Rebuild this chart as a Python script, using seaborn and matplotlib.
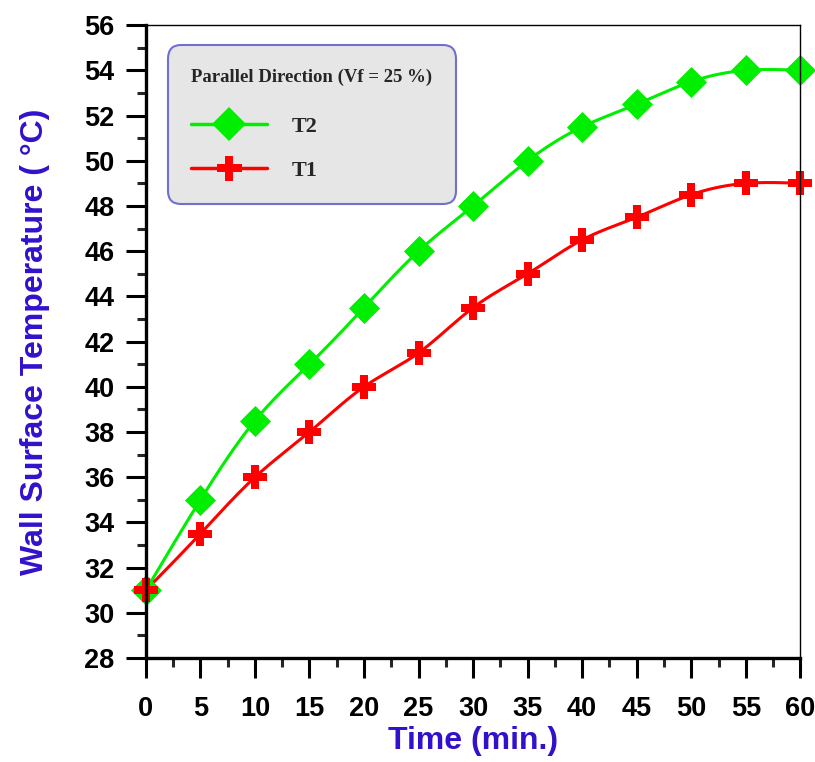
import numpy as np
import pandas as pd
import matplotlib
matplotlib.use("Agg")
import matplotlib.pyplot as plt
from matplotlib.lines import Line2D
from matplotlib.ticker import MultipleLocator
import seaborn as sns

time_min = [0, 5, 10, 15, 20, 25, 30, 35, 40, 45, 50, 55, 60]
t2 = [31, 35, 38.5, 41, 43.5, 46, 48, 50, 51.5, 52.5, 53.5, 54, 54]
t1 = [31, 33.5, 36, 38, 40, 41.5, 43.5, 45, 46.5, 47.5, 48.5, 49, 49]
series_names = ["T2", "T1"]
legend_title = "Parallel Direction (Vf = 25 %)"


def natural_spline(x, y, n=400):
    x = np.asarray(x, float); y = np.asarray(y, float)
    k = len(x); h = np.diff(x)
    A = np.zeros((k, k)); b = np.zeros(k)
    A[0, 0] = 1; A[-1, -1] = 1
    for i in range(1, k - 1):
        A[i, i - 1] = h[i - 1]; A[i, i] = 2 * (h[i - 1] + h[i]); A[i, i + 1] = h[i]
        b[i] = 3 * ((y[i + 1] - y[i]) / h[i] - (y[i] - y[i - 1]) / h[i - 1])
    c = np.linalg.solve(A, b)
    bb = (y[1:] - y[:-1]) / h - h * (2 * c[:-1] + c[1:]) / 3
    d = (c[1:] - c[:-1]) / (3 * h)
    xs = np.linspace(x[0], x[-1], n)
    idx = np.clip(np.searchsorted(x, xs) - 1, 0, k - 2)
    dx = xs - x[idx]
    ys = y[idx] + bb[idx] * dx + c[idx] * dx ** 2 + d[idx] * dx ** 3
    return xs, ys


sns.set_style("white")
plt.rcParams['font.family'] = ['Liberation Sans', 'DejaVu Sans']

fig = plt.figure(figsize=(8.15, 7.62), dpi=100)
ax = fig.add_axes([0.179, 0.1365, 0.803, 0.8305])

colors = {"T2": "#00ee00", "T1": "#ff0000"}
markers = {"T2": "D", "T1": "P"}
msizes = {"T2": 250, "T1": 280}

frames = []
pts = []
for name, vals in zip(series_names, [t2, t1]):
    xs, ys = natural_spline(time_min, vals)
    frames.append(pd.DataFrame({"x": xs, "y": ys, "s": name}))
    pts.append(pd.DataFrame({"x": time_min, "y": vals, "s": name}))
curves = pd.concat(frames)
points = pd.concat(pts)

sns.lineplot(data=curves, x="x", y="y", hue="s", palette=colors, linewidth=2.2,
             legend=False, ax=ax, sort=False)
for name in series_names:
    sub = points[points.s == name]
    sns.scatterplot(data=sub, x="x", y="y", color=colors[name], marker=markers[name],
                    s=msizes[name], linewidth=0, ax=ax, legend=False, zorder=5, clip_on=False)

ax.set_xlim(0, 60)
ax.set_ylim(28, 56)
ax.xaxis.set_major_locator(MultipleLocator(5))
ax.xaxis.set_minor_locator(MultipleLocator(2.5))
ax.yaxis.set_major_locator(MultipleLocator(2))
ax.yaxis.set_minor_locator(MultipleLocator(1))
ax.tick_params(which="major", direction="out", length=14.5, width=2.2, labelsize=19.5,
               left=True, bottom=True, colors="black")
ax.tick_params(axis="x", which="major", pad=13)
ax.tick_params(axis="y", which="major", pad=8)
ax.tick_params(which="minor", direction="out", length=6.5, width=2.2, left=True, bottom=True)
for lab in ax.get_xticklabels() + ax.get_yticklabels():
    lab.set_fontweight("bold")
for side in ["left", "bottom"]:
    ax.spines[side].set_linewidth(2.4)
    ax.spines[side].set_color("black")
for side in ["top", "right"]:
    ax.spines[side].set_linewidth(1.0)
    ax.spines[side].set_color("black")
for sp in ax.spines.values():
    sp.set_zorder(10)

ax.set_xlabel("Time (min.)", fontsize=23, fontweight="bold", color="#3311cc")
ax.set_ylabel("Wall Surface Temperature ( \u00b0C)", fontsize=23, fontweight="bold",
              color="#3311cc")
ax.xaxis.set_label_coords(0.5, -0.108)
ax.yaxis.set_label_coords(-0.147, 0.5)

handles = [Line2D([0], [0], color=colors[n], lw=2.5, marker=markers[n],
                  markersize=17 if n == "T2" else 18, markeredgewidth=0) for n in series_names]
leg = ax.legend(handles, series_names, title=legend_title, loc="upper left",
                bbox_to_anchor=(0.034, 0.968), borderaxespad=0, frameon=True, fancybox=True,
                prop={"family": "Liberation Serif", "weight": "bold", "size": 16},
                title_fontproperties={"family": "Liberation Serif", "weight": "bold", "size": 13.5},
                handlelength=3.4, handletextpad=1.1, labelspacing=1.04, borderpad=1.05,
                alignment="left")
frame = leg.get_frame()
frame.set_facecolor("#e6e6e6")
frame.set_edgecolor("#7070d0")
frame.set_linewidth(1.5)
frame.set_alpha(1)
leg._legend_box.sep = 22
frame.set_boxstyle("round,pad=0,rounding_size=0.6")

fig.savefig("out.png", dpi=100)
